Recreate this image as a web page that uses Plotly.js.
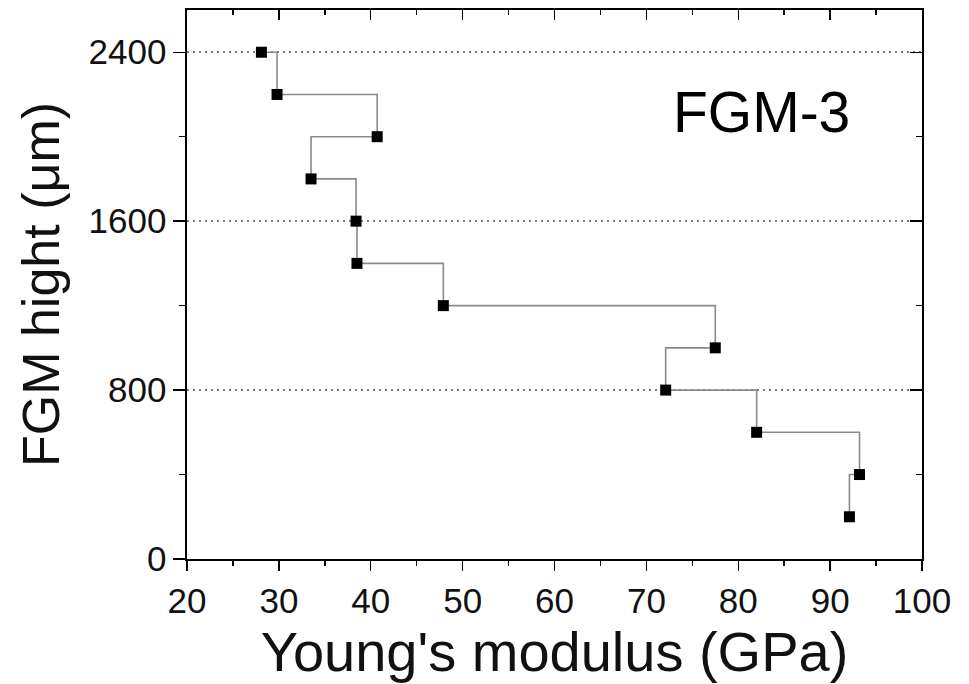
<!DOCTYPE html>
<html>
<head>
<meta charset="utf-8">
<script src="https://cdn.plot.ly/plotly-3.0.1.min.js"></script>
<style>
html, body { margin: 0; padding: 0; background: #fff; }
#chart { width: 969px; height: 684px; }
</style>
</head>
<body>
<div id="chart"></div>
<script>
// Data
const youngsModulus = [28.1, 29.8, 40.7, 33.5, 38.4, 38.5, 47.9, 77.5, 72.1, 82.0, 93.2, 92.1];
const fgmHeight = [2400, 2200, 2000, 1800, 1600, 1400, 1200, 1000, 800, 600, 400, 200];
const xTickVals = [20, 30, 40, 50, 60, 70, 80, 90, 100];
const yTickVals = [0, 800, 1600, 2400];
const labelText = "FGM-3";

const FONT = "Liberation Sans, Arial, Helvetica, sans-serif";

const traces = [
  {
    x: youngsModulus,
    y: fgmHeight,
    type: "scatter",
    mode: "lines+markers",
    line: { shape: "hv", color: "#8a8a8a", width: 1.6 },
    marker: { symbol: "square", size: 11, color: "#000000", line: { width: 0 } },
    showlegend: false,
    hoverinfo: "x+y"
  },
  {
    // invisible copy so that the top/right frame axes are drawn
    x: youngsModulus,
    y: fgmHeight,
    xaxis: "x2",
    yaxis: "y2",
    type: "scatter",
    mode: "markers",
    marker: { opacity: 0, size: 1 },
    showlegend: false,
    hoverinfo: "skip"
  }
];

const axisCommon = {
  showline: true,
  linecolor: "#000",
  linewidth: 1.6,
  zeroline: false,
  tickcolor: "#000",
  tickwidth: 1.4
};

const layout = {
  width: 969,
  height: 684,
  margin: { l: 187, r: 47, t: 10, b: 125 },
  paper_bgcolor: "#fff",
  plot_bgcolor: "#fff",
  font: { family: FONT, color: "#111" },
  showlegend: false,
  xaxis: Object.assign({}, axisCommon, {
    range: [20, 100],
    tickmode: "array",
    tickvals: xTickVals,
    ticktext: xTickVals.map(String),
    ticks: "outside",
    ticklen: 10,
    showgrid: false,
    minor: { dtick: 5, tick0: 0, ticks: "outside", ticklen: 5, tickcolor: "#000", tickwidth: 1.4, showgrid: false },
    tickfont: { family: FONT, size: 35, color: "#111" },
    title: { text: "Young's modulus (GPa)", font: { family: FONT, size: 56, color: "#111" }, standoff: 4 }
  }),
  xaxis2: Object.assign({}, axisCommon, {
    overlaying: "x",
    matches: "x",
    side: "top",
    anchor: "y",
    range: [20, 100],
    tickmode: "array",
    tickvals: xTickVals,
    ticks: "inside",
    ticklen: 10,
    showticklabels: false,
    showgrid: false,
    minor: { dtick: 5, tick0: 0, ticks: "inside", ticklen: 5, tickcolor: "#000", tickwidth: 1.4, showgrid: false }
  }),
  yaxis: Object.assign({}, axisCommon, {
    range: [0, 2600],
    tickmode: "array",
    tickvals: yTickVals,
    ticktext: yTickVals.map(String),
    ticks: "outside",
    ticklen: 12,
    showgrid: true,
    gridcolor: "#7a7a7a",
    gridwidth: 1.6,
    griddash: "2px,4px",
    minor: { dtick: 400, tick0: 0, ticks: "outside", ticklen: 6, tickcolor: "#000", tickwidth: 1.4, showgrid: false },
    tickfont: { family: FONT, size: 35, color: "#111" },
    title: { text: "FGM hight (μm)", font: { family: FONT, size: 52, color: "#111" }, standoff: 12 }
  }),
  yaxis2: Object.assign({}, axisCommon, {
    overlaying: "y",
    matches: "y",
    side: "right",
    anchor: "x",
    range: [0, 2600],
    tickmode: "array",
    tickvals: yTickVals,
    ticks: "inside",
    ticklen: 12,
    showticklabels: false,
    showgrid: false,
    minor: { dtick: 400, tick0: 0, ticks: "inside", ticklen: 6, tickcolor: "#000", tickwidth: 1.4, showgrid: false }
  }),
  annotations: [
    {
      text: labelText,
      xref: "paper", yref: "paper",
      x: 0.782, y: 0.814,
      xanchor: "center", yanchor: "middle",
      showarrow: false,
      font: { family: FONT, size: 57, color: "#000" }
    }
  ]
};

Plotly.newPlot("chart", traces, layout, { staticPlot: true, displayModeBar: false });
</script>
</body>
</html>
